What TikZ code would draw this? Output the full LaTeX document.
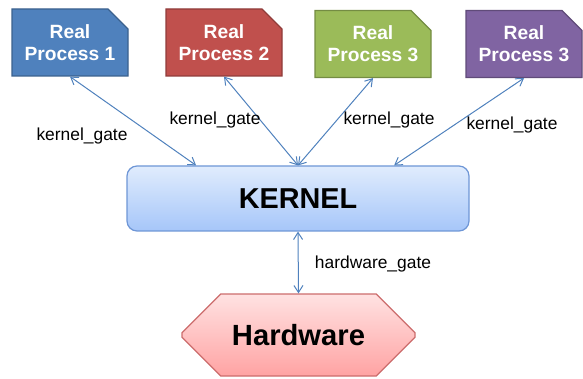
\documentclass[tikz,border=0pt]{standalone}
\usepackage{fontspec}
\setmainfont{Liberation Sans}
\usetikzlibrary{positioning, arrows.meta, shapes.misc}

\definecolor{procblue}{HTML}{4F81BD}
\definecolor{procred}{HTML}{C0504D}
\definecolor{procgreen}{HTML}{9BBB59}
\definecolor{procpurple}{HTML}{8064A2}
\definecolor{gateline}{HTML}{4F81BD}

\begin{document}
\begin{tikzpicture}[
      x=0.5pt, y=-0.5pt,
      <->/.tip={Straight Barb[length=3.5pt,width=4.5pt]},
      proc/.style={chamfered rectangle, chamfered rectangle corners=north east,
        chamfered rectangle sep=5pt, minimum width=58pt, minimum height=33.5pt,
        inner sep=0pt, align=center, text=white,
        font=\fontsize{9.6}{11}\selectfont\bfseries, line width=0.6pt,
        execute at begin node=\rule{0pt}{9.9pt}},
      gate/.style={<->, draw=gateline, line width=0.5pt},
      lab/.style={font=\fontsize{8.7}{10}\selectfont}
    ]
    \useasboundingbox (0,0) rectangle (583,379);

    % processes
    \node[proc,fill=procblue,draw=procblue!75!black]     (p1) at (70,42.5) {Real\\Process 1};
    \node[proc,fill=procred,draw=procred!75!black]       (p2) at (224,42.5) {Real\\Process 2};
    \node[proc,fill=procgreen,draw=procgreen!75!black]   (p3) at (373,44) {Real\\Process 3};
    \node[proc,fill=procpurple,draw=procpurple!75!black] (p4) at (524,44) {Real\\Process 3};

    % kernel
    \node[rectangle, rounded corners=5pt, minimum width=171pt, minimum height=32.5pt,
      top color={rgb,255:red,224;green,236;blue,253},
      bottom color={rgb,255:red,166;green,198;blue,249},
      draw={rgb,255:red,110;green,150;blue,214}, line width=0.6pt,
      font=\fontsize{14.4}{17}\selectfont\bfseries] (kernel) at (298,198.5) {KERNEL};

    % hardware
    \node[chamfered rectangle, chamfered rectangle sep=14pt, minimum width=116.5pt,
      minimum height=41pt, inner sep=0pt,
      top color={rgb,255:red,255;green,226;blue,226},
      bottom color={rgb,255:red,255;green,163;blue,163},
      draw={rgb,255:red,204;green,108;blue,108}, line width=0.6pt,
      font=\fontsize{14.6}{17}\selectfont\bfseries] (hw) at (298.5,335) {Hardware};

    % gates
    \draw[gate] (p1.south) -- (kernel.162);
    \draw[gate] (p2.south) -- (kernel.north);
    \draw[gate] (p3.south) -- (kernel.north);
    \draw[gate] (p4.south) -- (kernel.19);
    \draw[gate] (kernel.south) -- (hw.north);

    % labels
    \node[lab] (l1) at (82,136) {kernel\_gate};
    \node[lab] (l2) at (215,120) {kernel\_gate};
    \node[lab] (l3) at (389,120) {kernel\_gate};
    \node[lab] (l4) at (512,125) {kernel\_gate};
    \node[lab] (l5) at (373,264) {hardware\_gate};

\end{tikzpicture}
\end{document}
